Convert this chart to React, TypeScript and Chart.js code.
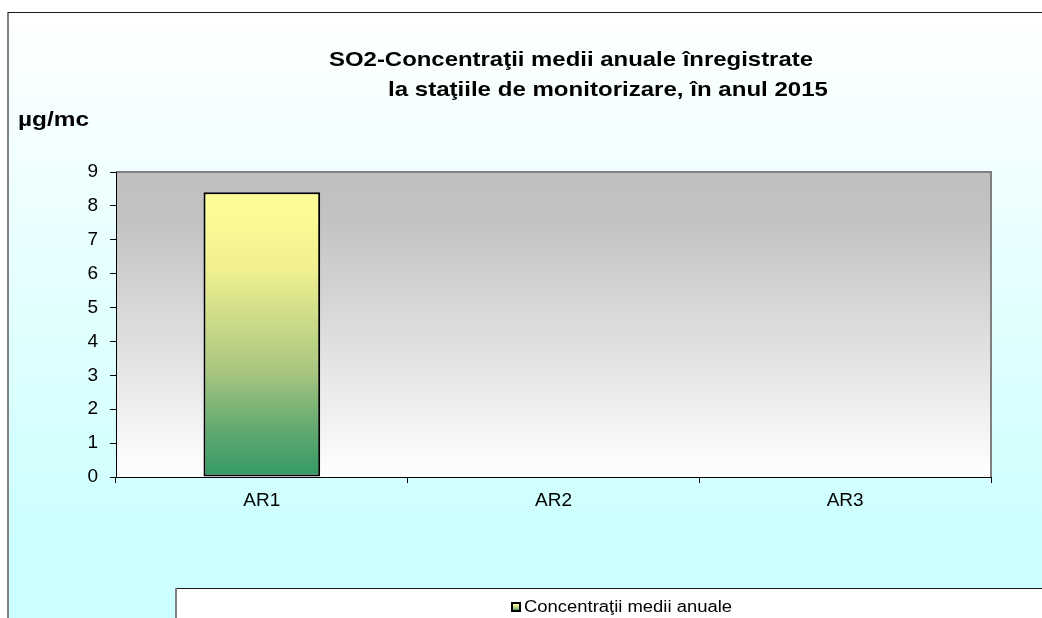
import React, { useEffect, useRef } from "react";
import { Chart, registerables } from "chart.js";

Chart.register(...registerables);

const categories: string[] = ["AR1", "AR2", "AR3"];
const seriesValues: (number | null)[] = [8.4, null, null];
const seriesLabel = "Concentraţii medii anuale";
const titleLines: string[] = [
  "SO2-Concentraţii medii anuale înregistrate",
  "la staţiile de monitorizare, în anul 2015",
];
const unitLabel = "µg/mc";
const yMin = 0;
const yMax = 9;
const yStep = 1;

const FONT = "'Liberation Sans', Arial, Helvetica, sans-serif";

function barGradient(ctx: CanvasRenderingContext2D, top: number, bottom: number) {
  const g = ctx.createLinearGradient(0, top, 0, bottom);
  g.addColorStop(0, "#ffff99");
  g.addColorStop(0.27, "#f0f090");
  g.addColorStop(0.63, "#a8c680");
  g.addColorStop(0.84, "#60a870");
  g.addColorStop(1, "#339966");
  return g;
}

function drawScaledText(
  ctx: CanvasRenderingContext2D,
  text: string,
  x: number,
  y: number,
  font: string,
  targetWidth?: number
) {
  ctx.save();
  ctx.font = font;
  ctx.textAlign = "left";
  ctx.textBaseline = "alphabetic";
  ctx.fillStyle = "#000";
  const w = ctx.measureText(text).width;
  const sx = targetWidth ? targetWidth / w : 1;
  ctx.translate(x, y);
  ctx.scale(sx, 1);
  ctx.fillText(text, 0, 0);
  ctx.restore();
}

const decorPlugin = {
  id: "decor",
  beforeDraw(chart: any) {
    const { ctx, width, height, chartArea: a } = chart;
    ctx.save();
    ctx.fillStyle = "#ffffff";
    ctx.fillRect(0, 0, width, height);
    const g = ctx.createLinearGradient(0, 12, 0, 540);
    g.addColorStop(0, "#ffffff");
    g.addColorStop(1, "#ccffff");
    ctx.fillStyle = g;
    ctx.fillRect(8, 12, width - 8, height - 12);
    // outer frame
    ctx.fillStyle = "#808080";
    ctx.fillRect(7, 12, 2, height - 12);
    ctx.fillStyle = "#1a1a1a";
    ctx.fillRect(8, 12, width - 8, 1);
    // plot area
    const pg = ctx.createLinearGradient(0, a.top, 0, a.bottom);
    pg.addColorStop(0, "#c0c0c0");
    pg.addColorStop(0.15, "#c2c2c2");
    pg.addColorStop(1, "#ffffff");
    ctx.fillStyle = pg;
    ctx.fillRect(a.left, a.top, a.right - a.left, a.bottom - a.top);
    ctx.fillStyle = "#808080";
    ctx.fillRect(a.left, a.top - 1, a.right - a.left + 1, 2);
    ctx.fillRect(a.right - 1, a.top - 1, 2, a.bottom - a.top + 1);
    ctx.restore();
  },
  afterDraw(chart: any) {
    const { ctx, width, height } = chart;
    // title
    drawScaledText(ctx, titleLines[0], 329, 66, `bold 21px ${FONT}`, 484);
    drawScaledText(ctx, titleLines[1], 388, 96, `bold 21px ${FONT}`, 440);
    // unit
    drawScaledText(ctx, unitLabel, 18, 126, `bold 20px ${FONT}`, 71);
    // legend box
    ctx.save();
    ctx.fillStyle = "#ffffff";
    ctx.fillRect(176, 588, width - 176, height - 588);
    ctx.fillStyle = "#1a1a1a";
    ctx.fillRect(176, 588, width - 176, 1);
    ctx.fillStyle = "#808080";
    ctx.fillRect(175, 588, 2, height - 588);
    // legend symbol
    ctx.fillStyle = "#000";
    ctx.fillRect(511, 602, 10, 10);
    ctx.fillStyle = barGradient(ctx, 603, 611);
    ctx.fillRect(513, 604, 6, 6);
    ctx.restore();
    drawScaledText(ctx, seriesLabel, 524, 612, `16px ${FONT}`, 208);
  },
};

export default function App() {
  const ref = useRef<HTMLCanvasElement | null>(null);
  useEffect(() => {
    if (!ref.current) return;
    const chart = new Chart(ref.current, {
      type: "bar",
      data: {
        labels: categories,
        datasets: [
          {
            label: seriesLabel,
            data: seriesValues as any,
            backgroundColor: (c: any) => {
              const ch = c.chart;
              const a = ch.chartArea;
              const v = c.parsed ? c.parsed.y : null;
              if (!a || v == null) return "#cccc88";
              const top = ch.scales.y.getPixelForValue(v);
              return barGradient(ch.ctx, top, a.bottom);
            },
            borderColor: "#000000",
            borderWidth: 2,
            borderSkipped: false,
            categoryPercentage: 1,
            barPercentage: 0.4,
          },
        ],
      },
      options: {
        responsive: false,
        animation: false,
        devicePixelRatio: 1,
        layout: { padding: { left: 0, right: 51, top: 172, bottom: 0 } },
        plugins: {
          legend: { display: false },
          title: { display: false },
          tooltip: { enabled: false },
        },
        scales: {
          x: {
            offset: true,
            afterFit: (s: any) => {
              s.height = 141;
            },
            grid: {
              offset: true,
              drawOnChartArea: false,
              drawTicks: true,
              tickLength: 6,
              color: "#000000",
              lineWidth: 1,
            },
            border: { display: true, color: "#000000", width: 1 },
            ticks: {
              color: "#000000",
              font: { family: FONT, size: 19 },
              padding: 6,
              maxRotation: 0,
            },
          },
          y: {
            min: yMin,
            max: yMax,
            afterFit: (s: any) => {
              s.width = 116;
            },
            grid: {
              drawOnChartArea: false,
              drawTicks: true,
              tickLength: 6,
              color: "#000000",
              lineWidth: 1,
            },
            border: { display: true, color: "#000000", width: 1 },
            ticks: {
              stepSize: yStep,
              color: "#000000",
              font: { family: FONT, size: 19 },
              padding: 12,
            },
          },
        },
      },
      plugins: [decorPlugin],
    });
    return () => chart.destroy();
  }, []);
  return (
    <div style={{ position: "fixed", left: 0, top: 0, width: 1042, height: 618 }}>
      <canvas ref={ref} width={1042} height={618} style={{ display: "block" }} />
    </div>
  );
}
